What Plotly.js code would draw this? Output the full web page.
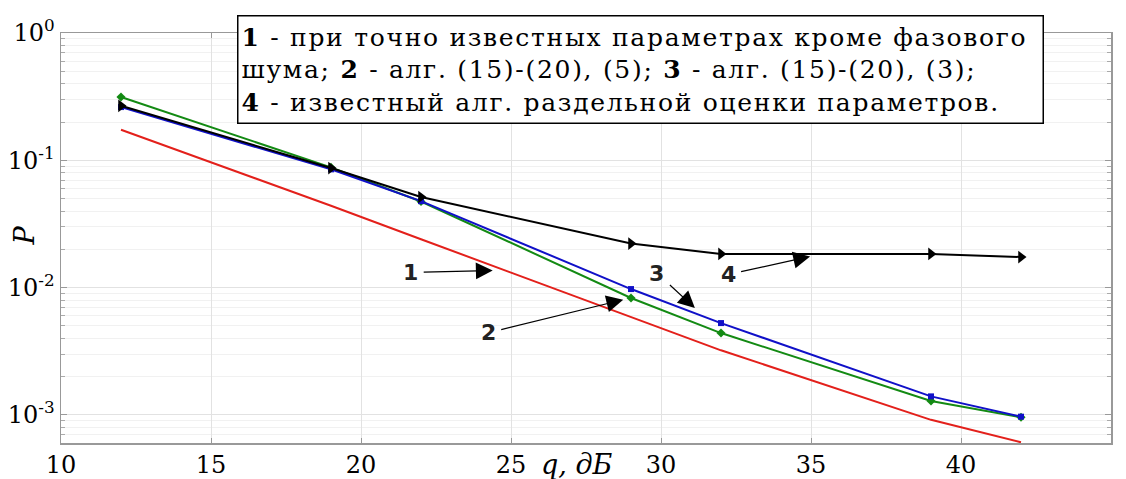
<!DOCTYPE html>
<html>
<head>
<meta charset="utf-8">
<script src="https://cdn.plot.ly/plotly-3.0.1.min.js"></script>
<style>
html,body{margin:0;padding:0;background:#fff;}
#chart{width:1126px;height:479px;}
g.annotation[data-index="0"] text.annotation-text{letter-spacing:1.7px;}
</style>
</head>
<body>
<div id="chart"></div>
<script>
// q, dB values
const snr = [12, 19, 22, 29, 32, 39, 42];
// Curve 1: exactly known parameters except phase noise
const p1 = [0.174, 0.044, 0.024, 0.00585, 0.00322, 0.000916, 0.00061];
// Curve 2: alg. (15)-(20), (5)
const p2 = [0.314, 0.088, 0.0475, 0.0083, 0.0044, 0.00129, 0.00096];
// Curve 3: alg. (15)-(20), (3)
const p3 = [0.262, 0.085, 0.0478, 0.00975, 0.00527, 0.0014, 0.00097];
// Curve 4: known separate-estimation algorithm
const p4 = [0.268, 0.087, 0.0515, 0.0222, 0.0184, 0.0184, 0.0174];

const yTickVals = [1, 0.1, 0.01, 0.001];
const yTickText = ['10<sup>0</sup>', '10<sup>-1</sup>', '10<sup>-2</sup>', '10<sup>-3</sup>'];
const xTickVals = [10, 15, 20, 25, 30, 35, 40, 45];
const minorMantissas = [2, 3, 4, 5, 6, 7, 8, 9];
const minorDecades = [0.0001, 0.001, 0.01, 0.1];

const legendText = '<b>1</b> - при точно известных параметрах кроме фазового<br>' +
  'шума; <b>2</b> - алг. (15)-(20), (5); <b>3</b> - алг. (15)-(20), (3);<br>' +
  '<b>4</b> - известный алг. раздельной оценки параметров.';

// curve labels: arrow tip (data coords, log10 for y) and label offset in pixels
const curveLabels = ['1', '2', '3', '4'];
const arrowTipX = [24.39, 28.74, 31.13, 34.97];
const arrowTipLogY = [-1.865, -2.095, -2.160, -1.755];
const labelDx = [-82, -135, -38, -82];
const labelDy = [2, 33, -35, 18];

const serif = 'DejaVu Serif, serif';

const minorTickVals = [];
minorDecades.forEach(d => minorMantissas.forEach(m => minorTickVals.push(m * d)));

const traces = [
  {x: snr, y: p1, mode: 'lines', line: {color: '#e3201b', width: 2}, name: '1'},
  {x: snr, y: p2, mode: 'lines+markers', line: {color: '#138a13', width: 2},
   marker: {symbol: 'diamond', size: 7, color: '#138a13'}, name: '2'},
  {x: snr, y: p3, mode: 'lines+markers', line: {color: '#1010c8', width: 2},
   marker: {symbol: 'square', size: 6, color: '#1010c8'}, name: '3'},
  {x: snr, y: p4, mode: 'lines+markers', line: {color: '#000000', width: 2},
   marker: {symbol: 'triangle-right', size: 11, color: '#000000'}, name: '4'}
];

const annotations = [];
// legend box
annotations.push({
  xref: 'paper', yref: 'paper', x: 0.1676, y: 1.0439, xanchor: 'left', yanchor: 'top',
  text: legendText, showarrow: false, align: 'left', valign: 'middle',
  width: 798, height: 100, borderpad: 3, borderwidth: 1.5, bordercolor: '#000',
  bgcolor: '#ffffff', font: {family: serif, size: 25, color: '#000'}
});
for (let i = 0; i < curveLabels.length; i++) {
  annotations.push({
    x: arrowTipX[i], y: arrowTipLogY[i], ax: labelDx[i], ay: labelDy[i],
    text: '<b>' + curveLabels[i] + '</b>', showarrow: true, borderpad: 5,
    arrowhead: 2, arrowsize: 2.8, arrowwidth: 1.2, arrowcolor: '#000',
    font: {family: 'DejaVu Sans, sans-serif', size: 22, color: '#222'}
  });
}
// axis titles
annotations.push({
  xref: 'paper', yref: 'paper', x: 0.491, y: -0.052, xanchor: 'center', yanchor: 'middle',
  text: '<i>q, дБ</i>', showarrow: false, font: {family: serif, size: 27, color: '#000'}
});
annotations.push({
  xref: 'paper', yref: 'paper', x: -0.035, y: 0.507, xanchor: 'center', yanchor: 'middle',
  text: '<i>P</i>', textangle: -90, showarrow: false, font: {family: serif, size: 27, color: '#000'}
});

const layout = {
  width: 1126, height: 479,
  margin: {l: 61, r: 15, t: 33, b: 36},
  paper_bgcolor: '#fff', plot_bgcolor: '#fff',
  showlegend: false,
  font: {family: serif, size: 24, color: '#000'},
  xaxis: {
    range: [10, 45], tickvals: xTickVals, ticks: 'inside', ticklen: 5, tickcolor: '#999',
    showline: true, linecolor: '#999', linewidth: 1.5, mirror: 'ticks',
    showgrid: true, gridcolor: '#e2e2e2', gridwidth: 1, zeroline: false,
    tickfont: {family: serif, size: 24, color: '#000'}
  },
  yaxis: {
    type: 'log', range: [-3.22, 0], tickvals: yTickVals, ticktext: yTickText,
    ticks: 'inside', ticklen: 6, tickcolor: '#999',
    showline: true, linecolor: '#999', linewidth: 1.5, mirror: 'ticks',
    showgrid: true, gridcolor: '#e2e2e2', gridwidth: 1, zeroline: false,
    tickfont: {family: serif, size: 24, color: '#000'},
    minor: {tickvals: minorTickVals, ticks: 'inside', ticklen: 4, tickcolor: '#aaa',
            showgrid: true, gridcolor: '#f1f1f1', gridwidth: 1}
  },
  annotations: annotations
};

Plotly.newPlot('chart', traces, layout, {displayModeBar: false, staticPlot: true});
</script>
</body>
</html>
